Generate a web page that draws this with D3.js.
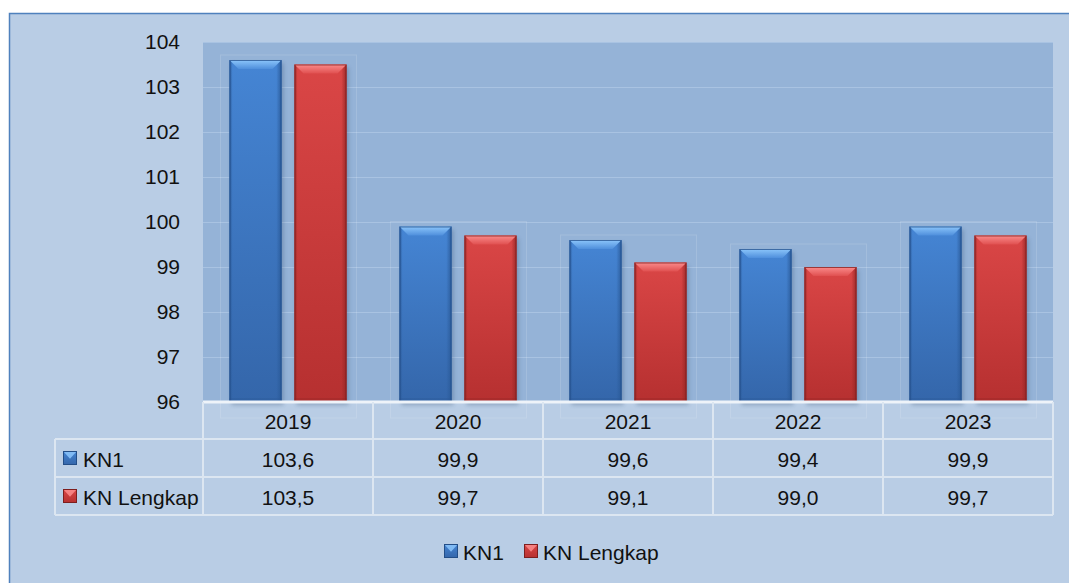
<!DOCTYPE html>
<html>
<head>
<meta charset="utf-8">
<script src="https://cdn.jsdelivr.net/npm/d3@7"></script>
<style>
  html, body { margin: 0; padding: 0; background: #ffffff; }
  svg { display: block; }
  text { font-family: "Liberation Sans", Arial, sans-serif; fill: #111; }
</style>
</head>
<body>
<svg id="chart" width="1069" height="583"></svg>
<script>
// Chart data
const years = ["2019", "2020", "2021", "2022", "2023"];
const seriesNames = ["KN1", "KN Lengkap"];
const kn1 = [103.6, 99.9, 99.6, 99.4, 99.9];
const knLengkap = [103.5, 99.7, 99.1, 99.0, 99.7];
const yTicks = [96, 97, 98, 99, 100, 101, 102, 103, 104];

const seriesValues = [kn1, knLengkap];
const fmt = v => v.toFixed(1).replace(".", ",");

const W = 1069, H = 583;
const plot = { left: 203, right: 1053, top: 42, bottom: 402 };
const rowLines = [402, 439, 477, 515];

const svg = d3.select("#chart");
const defs = svg.append("defs");

// Palette for each series: body gradient stops, bevel highlight, edges
const palette = [
  { topBody: "#4585d4", botBody: "#3466aa", top1: "#8cc6fb", top2: "#4f8fdc", edge: "#234e88", dark: "#2a5a98" },
  { topBody: "#da4646", botBody: "#b63030", top1: "#fb8c8c", top2: "#e05050", edge: "#7e1e1e", dark: "#962626" }
];

palette.forEach((p, i) => {
  const g = defs.append("linearGradient").attr("id", "body" + i)
    .attr("x1", "0").attr("x2", "0").attr("y1", "0").attr("y2", "1");
  g.append("stop").attr("offset", "0").attr("stop-color", p.topBody);
  g.append("stop").attr("offset", "1").attr("stop-color", p.botBody);

  const e = defs.append("linearGradient").attr("id", "edges" + i)
    .attr("x1", "0").attr("x2", "1").attr("y1", "0").attr("y2", "0");
  e.append("stop").attr("offset", "0").attr("stop-color", p.dark).attr("stop-opacity", 0.9);
  e.append("stop").attr("offset", "0.06").attr("stop-color", p.dark).attr("stop-opacity", 0);
  e.append("stop").attr("offset", "0.9").attr("stop-color", p.dark).attr("stop-opacity", 0);
  e.append("stop").attr("offset", "1").attr("stop-color", p.dark).attr("stop-opacity", 0.9);

  const t = defs.append("linearGradient").attr("id", "top" + i)
    .attr("x1", "0").attr("x2", "0").attr("y1", "0").attr("y2", "1");
  t.append("stop").attr("offset", "0").attr("stop-color", p.top1);
  t.append("stop").attr("offset", "1").attr("stop-color", p.top2);
});

const blur = defs.append("filter").attr("id", "soft")
  .attr("x", "-20%").attr("y", "-20%").attr("width", "140%").attr("height", "140%");
blur.append("feGaussianBlur").attr("stdDeviation", 2);

// Outer chart area
svg.append("rect").attr("x", 0).attr("y", 0).attr("width", W).attr("height", H).attr("fill", "#ffffff");
svg.append("rect").attr("x", 9.5).attr("y", 13.5).attr("width", W + 10).attr("height", H + 10)
  .attr("fill", "#b9cde5").attr("stroke", "#4f81bd").attr("stroke-width", 1.5);

// Scales
const y = d3.scaleLinear().domain([96, 104]).range([plot.bottom, plot.top]);
const x0 = d3.scaleBand().domain(years).range([plot.left, plot.right]).padding(0);
const x1 = d3.scaleBand().domain(seriesNames).range([0, x0.bandwidth()])
  .paddingInner(0.2).paddingOuter(0.408);

// Plot background and gridlines
svg.append("rect").attr("x", plot.left).attr("y", plot.top)
  .attr("width", plot.right - plot.left).attr("height", plot.bottom - plot.top)
  .attr("fill", "#95b3d7");

svg.append("g").selectAll("line").data(yTicks.filter(t => t > 96)).join("line")
  .attr("x1", plot.left).attr("x2", plot.right)
  .attr("y1", d => Math.round(y(d)) + 0.5).attr("y2", d => Math.round(y(d)) + 0.5)
  .attr("stroke", "#a9c3e2").attr("stroke-width", 1.2);

// Y axis labels
const yAxis = d3.axisLeft(y).tickValues(yTicks).tickSize(0).tickPadding(0).tickFormat(d3.format("d"));
const yG = svg.append("g").attr("transform", "translate(180,0)").call(yAxis);
yG.select(".domain").remove();
yG.selectAll("text").attr("font-size", 21).attr("fill", "#111")
  .style("font-family", '"Liberation Sans", Arial, sans-serif');

// Faint group frames behind the bars
const groups = svg.append("g");
years.forEach((yr, i) => {
  const bx = x0(yr);
  const l = bx + x1(seriesNames[0]) - 9;
  const r = bx + x1(seriesNames[1]) + x1.bandwidth() + 10;
  const top = y(d3.max(seriesValues, s => s[i])) - 5;
  groups.append("rect").attr("x", l).attr("y", top).attr("width", r - l).attr("height", plot.bottom + 16 - top)
    .attr("fill", "none").attr("stroke", "#ffffff").attr("stroke-opacity", 0.14).attr("stroke-width", 1);
});

// Bars
const barsG = svg.append("g");
years.forEach((yr, i) => {
  seriesNames.forEach((name, s) => {
    const v = seriesValues[s][i];
    const bx = x0(yr) + x1(name);
    const bw = x1.bandwidth();
    const by = y(v);
    const bh = plot.bottom - by;
    const p = palette[s];
    const g = barsG.append("g");
    // soft shadow
    g.append("rect").attr("x", bx + 2).attr("y", by + 3).attr("width", bw).attr("height", bh)
      .attr("fill", "#1f3a60").attr("opacity", 0.28).attr("filter", "url(#soft)");
    // body with darker side edges
    g.append("rect").attr("x", bx).attr("y", by).attr("width", bw).attr("height", bh)
      .attr("fill", `url(#body${s})`);
    g.append("rect").attr("x", bx).attr("y", by).attr("width", bw).attr("height", bh)
      .attr("fill", `url(#edges${s})`);
    // top bevel
    const bev = 9;
    g.append("path")
      .attr("d", `M${bx},${by} L${bx + bw},${by} L${bx + bw - bev},${by + bev} L${bx + bev},${by + bev} Z`)
      .attr("fill", `url(#top${s})`);
    // bottom shade
    g.append("rect").attr("x", bx).attr("y", plot.bottom - 4).attr("width", bw).attr("height", 4)
      .attr("fill", p.dark).attr("opacity", 0.35);
    g.append("rect").attr("x", bx + 0.5).attr("y", by + 0.5).attr("width", bw - 1).attr("height", bh - 1)
      .attr("fill", "none").attr("stroke", p.edge).attr("stroke-width", 1).attr("opacity", 0.75);
  });
});

// Data table
const tbl = svg.append("g");
const lineColor = "#dce6f1";
// horizontal lines
tbl.append("line").attr("x1", plot.left).attr("x2", plot.right).attr("y1", rowLines[0]).attr("y2", rowLines[0])
  .attr("stroke", "#eef3f9").attr("stroke-width", 3);
rowLines.slice(1).forEach(ly => {
  tbl.append("line").attr("x1", 55).attr("x2", plot.right).attr("y1", ly).attr("y2", ly)
    .attr("stroke", lineColor).attr("stroke-width", 2);
});
// vertical lines
[plot.left, ...years.map(yr => x0(yr) + x0.bandwidth())].forEach(lx => {
  tbl.append("line").attr("x1", lx).attr("x2", lx).attr("y1", rowLines[0]).attr("y2", rowLines[3])
    .attr("stroke", lineColor).attr("stroke-width", 2);
});
tbl.append("line").attr("x1", 55).attr("x2", 55).attr("y1", rowLines[1]).attr("y2", rowLines[3])
  .attr("stroke", lineColor).attr("stroke-width", 2);

// header row (years)
tbl.selectAll("text.year").data(years).join("text").attr("class", "year")
  .attr("x", d => x0(d) + x0.bandwidth() / 2).attr("y", (rowLines[0] + rowLines[1]) / 2 + 1)
  .attr("text-anchor", "middle").attr("dominant-baseline", "central").attr("font-size", 21)
  .text(d => d);

// value rows
seriesValues.forEach((vals, s) => {
  const cy = (rowLines[s + 1] + rowLines[s + 2]) / 2 + 1;
  tbl.selectAll("text.v" + s).data(vals).join("text").attr("class", "v" + s)
    .attr("x", (d, i) => x0(years[i]) + x0.bandwidth() / 2).attr("y", cy)
    .attr("text-anchor", "middle").attr("dominant-baseline", "central").attr("font-size", 21)
    .text(d => fmt(d));
});

// Legend marker with a small bevel
function marker(g, mx, my, s) {
  const p = palette[s];
  const sz = 14;
  g.append("rect").attr("x", mx).attr("y", my).attr("width", sz).attr("height", sz).attr("fill", `url(#body${s})`);
  g.append("path").attr("d", `M${mx},${my} L${mx + sz},${my} L${mx + sz / 2},${my + sz * 0.55} Z`)
    .attr("fill", p.top1).attr("opacity", 0.85);
  g.append("rect").attr("x", mx + 0.5).attr("y", my + 0.5).attr("width", sz - 1).attr("height", sz - 1)
    .attr("fill", "none").attr("stroke", p.edge).attr("stroke-width", 1);
}

// row labels in the table
seriesNames.forEach((name, s) => {
  const cy = (rowLines[s + 1] + rowLines[s + 2]) / 2;
  marker(tbl, 63, cy - 7, s);
  tbl.append("text").attr("x", 83).attr("y", cy + 1).attr("dominant-baseline", "central")
    .attr("font-size", 21).text(name);
});

// Bottom legend
const leg = svg.append("g");
const legY = 551;
const legX = [444, 524];
seriesNames.forEach((name, s) => {
  marker(leg, legX[s], legY - 7, s);
  leg.append("text").attr("x", legX[s] + 19).attr("y", legY + 1).attr("dominant-baseline", "central")
    .attr("font-size", 21).text(name);
});
</script>
</body>
</html>
